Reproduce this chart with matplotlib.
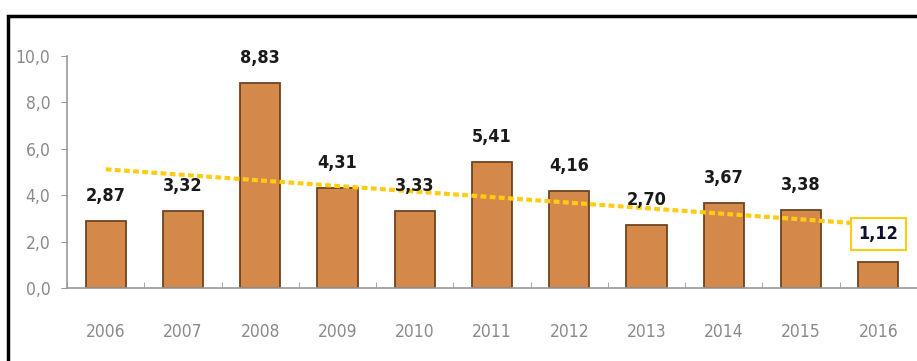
import numpy as np
import matplotlib.pyplot as plt
from matplotlib.patches import Rectangle

# values
years = ['2006', '2007', '2008', '2009', '2010', '2011', '2012', '2013', '2014', '2015', '2016']
values = [2.87, 3.32, 8.83, 4.31, 3.33, 5.41, 4.16, 2.70, 3.67, 3.38, 1.12]
value_labels = ['2,87', '3,32', '8,83', '4,31', '3,33', '5,41', '4,16', '2,70', '3,67', '3,38', '1,12']
y_ticks = [0, 2, 4, 6, 8, 10]
y_tick_labels = ['0,0', '2,0', '4,0', '6,0', '8,0', '10,0']

plt.rcParams['font.family'] = ['DejaVu Sans']
plt.rcParams['font.stretch'] = 'condensed'

fig = plt.figure(figsize=(9.17, 3.61), dpi=100)
ax = fig.add_axes([0.0731, 0.2022, 0.9269, 0.6427])

x = np.arange(len(years))
ax.bar(x, values, width=0.52, color='#d4894a', edgecolor='#6e4420', linewidth=1.3, zorder=2)

# linear trend line (Excel style)
slope, intercept = np.polyfit(x, values, 1)
ax.plot(x, slope * x + intercept, color='#ffcc14', linewidth=3,
        linestyle=(0, (1.4, 0.8)), zorder=3)

for i, (v, lab) in enumerate(zip(values, value_labels)):
    if i == len(values) - 1:
        ax.annotate(lab, (i, v), xytext=(0, 20), textcoords='offset points',
                    ha='center', va='center', fontsize=13, fontweight='bold',
                    color='#10102e', zorder=4,
                    bbox=dict(boxstyle='square,pad=0.4', fc='white', ec='#ffcc14', lw=1.5))
    else:
        ax.annotate(lab, (i, v), xytext=(0, 18), textcoords='offset points',
                    ha='center', va='center', fontsize=13, fontweight='semibold',
                    color='#1a1a1a', zorder=4)

ax.set_xlim(-0.5, len(years) - 0.5)
ax.set_ylim(0, 10)
ax.set_yticks(y_ticks)
ax.set_yticklabels(y_tick_labels)
ax.set_xticks(x)
ax.set_xticklabels(years)

ax.set_xticks(np.arange(-0.5, len(years), 1), minor=True)
ax.tick_params(axis='x', which='major', length=0, pad=25, labelsize=12.5, labelcolor='#8a8a8a')
ax.tick_params(axis='x', which='minor', length=4, direction='in', color='#999999')
ax.tick_params(axis='y', length=4, color='#999999', pad=8, labelsize=12.5, labelcolor='#8a8a8a')

for s in ['top', 'right']:
    ax.spines[s].set_visible(False)
ax.spines['left'].set_color('#999999')
ax.spines['bottom'].set_color('#999999')
ax.spines['left'].set_linewidth(1.2)
ax.spines['bottom'].set_linewidth(1.2)

# black frame around the chart, cut off at right and bottom
fig.patches.append(Rectangle((7.5 / 917, -0.1), 1.2, 1 - 15.5 / 361 + 0.1,
                             transform=fig.transFigure, fill=False,
                             edgecolor='black', linewidth=2.5))

fig.savefig('out.png', dpi=100)
